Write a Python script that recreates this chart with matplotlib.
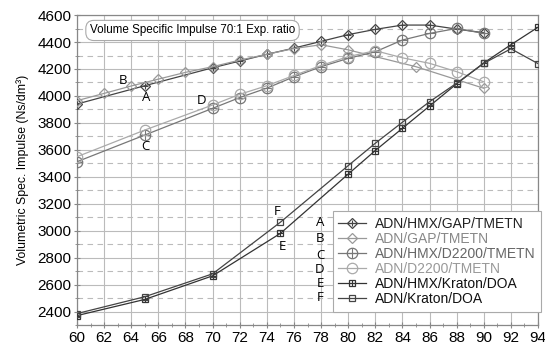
import matplotlib
matplotlib.use("Agg")
import matplotlib.pyplot as plt
from matplotlib.ticker import MultipleLocator
from matplotlib.legend_handler import HandlerTuple

plt.rcParams['font.family'] = ['Liberation Sans', 'DejaVu Sans']

# ---- data ----
x_A = [60, 65, 70, 72, 74, 76, 78, 80, 82, 84, 86, 88, 90]
y_A = [3940, 4076, 4209, 4259, 4309, 4355, 4405, 4455, 4494, 4526, 4526, 4496, 4469]

x_B = [60, 62, 64, 66, 68, 70, 72, 74, 76, 78, 80, 85, 90]
y_B = [3965, 4019, 4074, 4125, 4175, 4217, 4266, 4309, 4352, 4380, 4342, 4217, 4057]

x_C = [60, 65, 70, 72, 74, 76, 78, 80, 82, 84, 86, 88, 90]
y_C = [3512, 3710, 3908, 3988, 4058, 4142, 4217, 4279, 4328, 4415, 4464, 4501, 4464]

x_D = [60, 65, 70, 72, 74, 76, 78, 80, 82, 84, 86, 88, 90]
y_D = [3549, 3747, 3933, 4012, 4076, 4152, 4226, 4292, 4336, 4283, 4242, 4180, 4105]

x_E = [60, 65, 70, 75, 80, 82, 84, 86, 88, 90, 92, 94]
y_E = [2370, 2490, 2665, 2980, 3420, 3595, 3760, 3925, 4090, 4245, 4380, 4510]

x_F = [60, 65, 70, 75, 80, 82, 84, 86, 88, 90, 92, 94]
y_F = [2385, 2510, 2680, 3063, 3483, 3649, 3805, 3957, 4095, 4242, 4350, 4240]

labels = ["ADN/HMX/GAP/TMETN", "ADN/GAP/TMETN", "ADN/HMX/D2200/TMETN",
          "ADN/D2200/TMETN", "ADN/HMX/Kraton/DOA", "ADN/Kraton/DOA"]
letters = ["A", "B", "C", "D", "E", "F"]
title_text = "Volume Specific Impulse 70:1 Exp. ratio"
y_label = "Volumetric Spec. Impulse (Ns/dm³)"

# ---- figure ----
fig = plt.figure(figsize=(5.45, 3.51), dpi=100)
ax = fig.add_axes([0.1413, 0.074, 0.8459, 0.883])

series = [
    (x_A, y_A, '#444444', 'D', 5.0, True),
    (x_B, y_B, '#999999', 'D', 5.5, False),
    (x_C, y_C, '#777777', 'o', 7.5, True),
    (x_D, y_D, '#aaaaaa', 'o', 7.5, False),
    (x_E, y_E, '#333333', 's', 5.0, True),
    (x_F, y_F, '#444444', 's', 5.0, False),
]
text_colors = ['#222222', '#888888', '#666666', '#999999', '#111111', '#111111']

handles = []
for (xs, ys, col, mk, ms, plus), lab in zip(series, labels):
    ln, = ax.plot(xs, ys, color=col, lw=0.9, marker=mk, ms=ms,
                  mfc='none', mec=col, mew=0.9, zorder=3)
    if plus:
        pl, = ax.plot(xs, ys, linestyle='none', marker='+', ms=ms,
                      mec=col, mew=0.8, zorder=3)
        handles.append((ln, pl))
    else:
        handles.append(ln)

ax.set_xlim(60, 94)
ax.set_ylim(2300, 4600)
ax.xaxis.set_major_locator(MultipleLocator(2))
ax.xaxis.set_minor_locator(MultipleLocator(1))
ax.yaxis.set_minor_locator(MultipleLocator(100))
ax.set_yticks([2400, 2600, 2800, 3000, 3200, 3400, 3600, 3800, 4000, 4200, 4400, 4600])

ax.grid(which='major', axis='both', color='#bbbbbb', lw=0.8, linestyle='-', zorder=0)
ax.grid(which='minor', axis='y', color='#bbbbbb', lw=0.8, linestyle=(0, (5, 4)), zorder=0)
ax.set_axisbelow(True)

for sp in ax.spines.values():
    sp.set_color('#888888')
    sp.set_linewidth(0.9)

ax.tick_params(which='major', labelsize=11, length=4, color='#888888', direction='inout', pad=2)
ax.tick_params(which='minor', length=3, color='#888888', direction='inout')
for lbl in ax.get_xticklabels():
    if lbl.get_text() == '94':
        lbl.set_horizontalalignment('center')

ax.set_ylabel(y_label, fontsize=8.8, labelpad=6)

ax.text(60.95, 4486, title_text, fontsize=8.4, ha='left', va='center', zorder=5,
        bbox=dict(boxstyle='round,pad=0.35,rounding_size=0.7', fc='white', ec='#aaaaaa', lw=0.8))

leg = ax.legend(handles, labels, loc='lower left', bbox_to_anchor=(0.555, 0.043),
                fontsize=10, frameon=True, fancybox=False, edgecolor='#aaaaaa',
                framealpha=1, labelspacing=0.08, handlelength=2.0, handletextpad=0.6,
                borderpad=0.4, borderaxespad=0, numpoints=1,
                handler_map={tuple: HandlerTuple(ndivide=1, pad=0)})
leg.get_frame().set_linewidth(0.8)
for t, c in zip(leg.get_texts(), text_colors):
    t.set_color(c)

# curve letter annotations
ann_font = ['Open Sans', 'DejaVu Sans']
curve_pos = {"B": (63.39, 4118), "A": (65.07, 3987), "D": (69.2, 3965),
             "C": (65.07, 3623), "F": (74.73, 3141), "E": (75.17, 2882)}
for k, (xx, yy) in curve_pos.items():
    ax.text(xx, yy, k, fontsize=9.5, ha='center', va='center', family=ann_font, zorder=6)
leg_ys = [3063, 2944, 2813, 2709, 2610, 2504]
for k, yy in zip(letters, leg_ys):
    ax.text(77.92, yy, k, fontsize=9.5, ha='center', va='center', family=ann_font, zorder=6)

fig.savefig("out.png", dpi=100)
